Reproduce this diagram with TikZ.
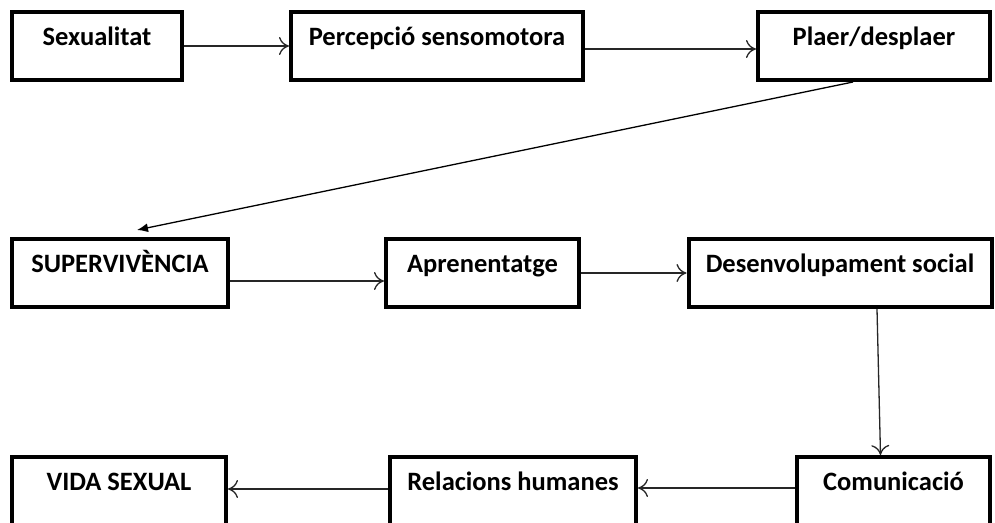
\documentclass[tikz,border=0pt]{standalone}
\usepackage{fontspec}
\setmainfont{Carlito}
\usetikzlibrary{arrows.meta}
\newcommand{\FlowArrowType}{flowtip}

\tikzset{
  flowtip/.tip={To[length=10pt,width=18pt]},
  jumptip/.tip={Latex[length=11pt,width=9pt]},
  stage/.style={draw, line width=4pt, inner xsep=0pt, inner ysep=0pt,
    text height=33pt, text depth=35pt, font=\fontsize{26.5}{30}\selectfont\bfseries},
  flow/.style={->, line width=1.3pt, draw=black!85},
}

\begin{document}
\begin{tikzpicture}[x=1pt,y=-1pt,>=\FlowArrowType]
                \useasboundingbox (0,0) rectangle (995,522);

                % first row
                \node[stage, minimum width=170pt] (sex) at (97,10) [anchor=north] {Sexualitat};
                \node[stage, minimum width=292pt] (perc) at (437,10) [anchor=north] {Percepció sensomotora};
                \node[stage, minimum width=232pt] (plaer) at (874,10) [anchor=north] {Plaer/desplaer};

                % second row
                \node[stage, minimum width=216pt] (super) at (120,237) [anchor=north] {SUPERVIVÈNCIA};
                \node[stage, minimum width=193pt] (apren) at (482.5,237) [anchor=north] {Aprenentatge};
                \node[stage, minimum width=303pt] (desen) at (840,237) [anchor=north] {Desenvolupament social};

                % third row
                \node[stage, minimum width=214pt] (vida) at (119,455) [anchor=north] {VIDA SEXUAL};
                \node[stage, minimum width=246pt] (relac) at (513,455) [anchor=north] {Relacions humanes};
                \node[stage, minimum width=193pt] (comun) at (893.5,455) [anchor=north] {Comunicació};

                \draw[flow] (sex.east) -- (perc.west);
                \draw[flow] ([yshift=-3pt]perc.east) -- ([yshift=-3pt]plaer.west);
                \draw[-jumptip, line width=1.3pt]
                        ([xshift=-21pt]plaer.south) -- ([xshift=17pt,yshift=7pt]super.north);
                \draw[flow] ([yshift=-8pt]super.east) -- ([yshift=-8pt]apren.west);
                \draw[flow] (apren.east) -- (desen.west);
                \draw[flow] ([xshift=37pt]desen.south) -- ([xshift=-13pt]comun.north);
                \draw[flow] ([yshift=3pt]comun.west) -- ([yshift=3pt]relac.east);
                \draw[flow] ([yshift=2pt]relac.west) -- ([yshift=2pt]vida.east);
            \end{tikzpicture}
\end{document}
